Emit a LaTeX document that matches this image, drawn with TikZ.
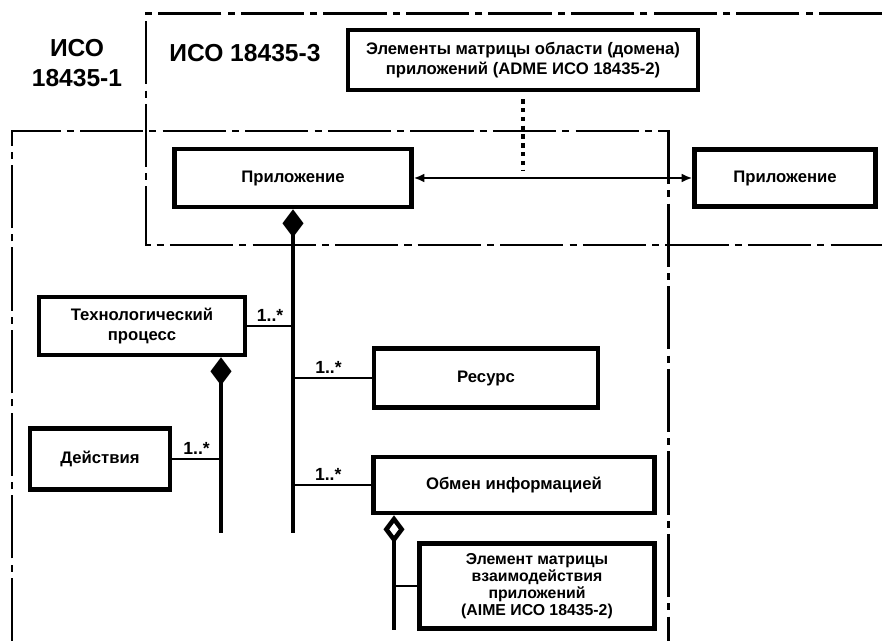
\documentclass[tikz,border=0pt]{standalone}
\usepackage{fontspec}
\setmainfont{Liberation Sans}
\usetikzlibrary{arrows.meta,positioning}
\tikzset{
  umlbox/.style={
    rectangle,
    draw=black,
    fill=white,
    line width=2.6pt,
    align=center,
    inner sep=0pt,
    font=\bfseries\fontsize{9.5}{11}\selectfont
  },
  zoneline/.style={line width=1.7pt, dash pattern=on 36pt off 3.5pt on 4pt off 3.5pt},
  zonelabel/.style={font=\bfseries\fontsize{14}{17}\selectfont, align=center},
  multlabel/.style={font=\bfseries\fontsize{10}{12}\selectfont, inner sep=2pt},
  branchline/.style={line width=1.6pt},
  partof/.style={{Diamond[length=16pt,width=12pt]}-, line width=2.6pt},
  sharedpart/.style={{Diamond[open,length=16pt,width=12pt]}-, line width=2.6pt},
  linkarrow/.style={{Latex[length=6pt,width=5pt]}-{Latex[length=6pt,width=5pt]}, line width=1.1pt},
  tracelink/.style={line width=2.4pt, dash pattern=on 2.5pt off 2.5pt}
}
\begin{document}
\begin{tikzpicture}[x=0.02cm,y=-0.02cm]
\useasboundingbox (0,0) rectangle (882,641);
\draw[zoneline] (882,14) -- (146,14) -- (146,245) -- (882,245);
\draw[zoneline] (12,641) -- (12,131) -- (668,131) -- (668,641);
\node[zonelabel] (iso1) at (77,63) {ИСО\\18435-1};
\node[zonelabel] (iso3) at (245,53) {ИСО 18435-3};
\node[umlbox, minimum width=7.0cm, minimum height=1.2cm] (adme) at (523,60) {Элементы матрицы области (домена)\\приложений (ADME ИСО 18435-2)};
\node[umlbox, minimum width=4.74cm, minimum height=1.16cm] (appl) at (293,178) {Приложение};
\node[umlbox, minimum width=3.62cm, minimum height=1.14cm] (appr) at (785,178) {Приложение};
\node[umlbox, minimum width=4.12cm, minimum height=1.16cm] (proc) at (142,326) {Технологический\\процесс};
\node[umlbox, minimum width=2.8cm, minimum height=1.22cm] (act) at (100,459) {Действия};
\node[umlbox, minimum width=4.48cm, minimum height=1.18cm] (res) at (486,378) {Ресурс};
\node[umlbox, minimum width=5.62cm, minimum height=1.12cm] (info) at (514,485) {Обмен информацией};
\node[umlbox, minimum width=4.7cm, minimum height=1.7cm, font=\bfseries\fontsize{9}{9.6}\selectfont] (aime) at (537,586) {Элемент матрицы\\взаимодействия\\приложений\\(AIME ИСО 18435-2)};
\coordinate (dotend) at (523,170);
\coordinate (atrunk) at (293,533);
\coordinate (ptrunk) at (221,533);
\coordinate (itrunk) at (394,630);
\draw[tracelink, shorten <=4pt] (adme.south) -- (dotend);
\draw[linkarrow] (appl.east) -- (appr.west);
\draw[partof] (appl.south) -- (atrunk);
\draw[partof] (proc.south -| ptrunk) -- (ptrunk);
\draw[sharedpart] (info.south -| itrunk) -- (itrunk);
\draw[branchline] (proc.east) -- node[multlabel, above, pos=0.5] {1..*} (proc.east -| atrunk);
\draw[branchline] (act.east) -- node[multlabel, above, pos=0.5] {1..*} (act.east -| ptrunk);
\draw[branchline] (res.west) -- node[multlabel, above, pos=0.55] {1..*} (res.west -| atrunk);
\draw[branchline] (info.west) -- node[multlabel, above, pos=0.55] {1..*} (info.west -| atrunk);
\draw[branchline] (aime.west) -- (aime.west -| itrunk);
\end{tikzpicture}
\end{document}
